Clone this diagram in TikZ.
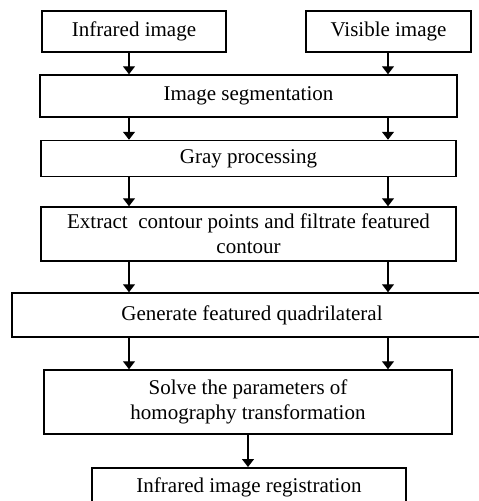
\documentclass[tikz,border=0pt]{standalone}
\usepackage{fontspec}
\setmainfont{Liberation Serif}
\usetikzlibrary{positioning,arrows.meta}

\begin{document}
\begin{tikzpicture}[
		x=1pt, y=1pt,
		>={Triangle[width=12pt,length=8pt]},
		step_box/.style={
			rectangle, draw=black, line width=1.5pt, fill=white, inner sep=0pt,
			font=\fontsize{21}{25}\selectfont, align=center
		},
		flow/.style={->, line width=1.3pt}
		]
		
		% --- CANVAS ---
		\useasboundingbox (0,0) rectangle (479,-501);
		\clip (0,0) rectangle (479,-501);
		
		% --- COLUMNS OF THE TWO TRACKS ---
		\coordinate (col_ir) at (129,0);
		\coordinate (col_vis) at (388,0);
		\coordinate (col_mid) at (248,0);
		
		% --- INPUT IMAGES ---
		\node[step_box, minimum width=184pt, minimum height=41pt] (ir_img) at (134,-31.5) {Infrared image};
		\node[step_box, minimum width=165pt, minimum height=41pt] (vis_img) at (388.5,-31.5) {Visible image};
		
		% --- PROCESSING STEPS ---
		\node[step_box, minimum width=417pt, minimum height=42pt] (seg) at (248.5,-96) {Image segmentation};
		\node[step_box, minimum width=415pt, minimum height=36pt] (gray) at (248.5,-158.5) {Gray processing};
		\node[step_box, minimum width=415pt, minimum height=54pt] (contour) at (248.5,-234) {Extract~ contour points and filtrate featured\\contour};
		\node[step_box, minimum width=480pt, minimum height=44pt] (quad) at (252,-315) {Generate featured quadrilateral};
		\node[step_box, minimum width=408pt, minimum height=64pt] (homo) at (248,-402) {Solve the parameters of\\homography transformation};
		\node[step_box, minimum width=314pt, minimum height=70pt, anchor=north] (reg) at (249,-467) {};
		\node[font=\fontsize{21}{25}\selectfont] (reg_text) at (249,-487) {Infrared image registration};
		
		% --- CONNECTIONS ---
		\draw[flow] (ir_img.south -| col_ir) -- (seg.north -| col_ir);
		\draw[flow] (vis_img.south -| col_vis) -- (seg.north -| col_vis);
		
		\draw[flow] (seg.south -| col_ir) -- (gray.north -| col_ir);
		\draw[flow] (seg.south -| col_vis) -- (gray.north -| col_vis);
		
		\draw[flow] (gray.south -| col_ir) -- (contour.north -| col_ir);
		\draw[flow] (gray.south -| col_vis) -- (contour.north -| col_vis);
		
		\draw[flow] (contour.south -| col_ir) -- (quad.north -| col_ir);
		\draw[flow] (contour.south -| col_vis) -- (quad.north -| col_vis);
		
		\draw[flow] (quad.south -| col_ir) -- (homo.north -| col_ir);
		\draw[flow] (quad.south -| col_vis) -- (homo.north -| col_vis);
		
		\draw[flow] (homo.south -| col_mid) -- (reg.north -| col_mid);
		
\end{tikzpicture}
\end{document}
